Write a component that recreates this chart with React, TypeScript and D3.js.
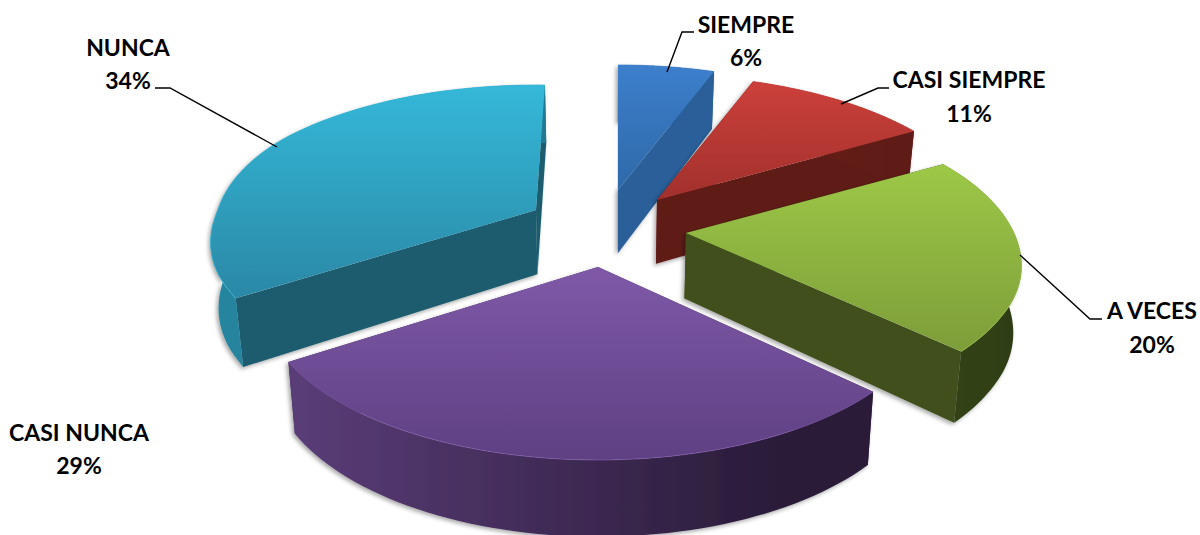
import React from "react";
import * as d3 from "d3";

const categories = ["SIEMPRE", "CASI SIEMPRE", "A VECES", "CASI NUNCA", "NUNCA"];
const percents = [6, 11, 20, 29, 34];

// layout (not data)
const W = 1200, H = 535, CX = 610, CY = 225;
const RX = 328, RY_MID = 159, RY_SKEW = 34, X_SKEW = 0.22;
const explodeOffset: [number, number][] = [[8, -35], [47, -25], [76, 8], [-12, 42], [-74, -15]];
const endNudge = [0, 0, 0, 0, 2 * Math.PI / 180];
const nearPullX = [0, 0, 0, 0, 0.03];
const nearScaleY = [1, 1, 0.95, 1, 0.93];
const paint = [4, 0, 1, 2, 3];
const styles = [
  { top: ["#3d7fcc", "#2e69a8"], inner: "#2b5e99", outer: ["#2b5e99", "#2b5e99"] },
  { top: ["#cc403b", "#a1302c"], inner: "#5f1a18", outer: ["#6b1e1b", "#5f1a18"] },
  { top: ["#9dc847", "#7d9d39"], inner: "#3f501c", outer: ["#33441a", "#2f3e14"] },
  { top: ["#7f59a8", "#5f4083"], inner: "#3a2850", outer: ["#5a3d78", "#291b38"] },
  { top: ["#35b8d9", "#2a88a5"], inner: "#1c5c6e", outer: ["#25859f", "#217a92"] },
];
const labelLayout = [
  { x: 746, y: 33, dy: 33 },
  { x: 969, y: 88, dy: 34 },
  { x: 1152, y: 319, dy: 34 },
  { x: 79, y: 441, dy: 33 },
  { x: 128, y: 56, dy: 33 },
];
const leaders: [number, number][][] = [
  [[667, 72], [682, 32], [694, 32]],
  [[841, 104], [878, 88], [889, 88]],
  [[1020, 255], [1090, 319], [1102, 319]],
  [],
  [[155, 88], [170, 88], [277, 147]],
];

// perspective projection of a unit disc point, with a per-slice near-side correction
const project = (a: number, i: number): [number, number] => {
  const s = Math.sin(a), v = -Math.cos(a);
  const pull = 1 - nearPullX[i] * Math.max(0, Math.min(1, (v + 0.5) / 0.5));
  const sy = v > 0 ? 1 - (1 - nearScaleY[i]) * v / 0.5 : 1;
  return [RX * (1 + X_SKEW * v) * s * pull, v * (RY_MID + RY_SKEW * v) * Math.max(sy, nearScaleY[i])];
};
const extrude = ([x, y]: [number, number]): [number, number] => [
  CX + (x - CX) * 0.98,
  y + 65 + (y - CY) * 0.05,
];

const pie = d3.pie<number>().sort(null).startAngle(0).endAngle(2 * Math.PI);
const arcs = pie(percents);
const line = d3.line<[number, number]>();

const slices = arcs.map((arc, i) => {
  const apex: [number, number] = [CX + explodeOffset[i][0], CY + explodeOffset[i][1]];
  const end = arc.endAngle + endNudge[i];
  const rim = d3
    .range(0, 61)
    .map((k) => arc.startAngle + ((end - arc.startAngle) * k) / 60)
    .map((a) => {
      const [x, y] = project(a, i);
      return [apex[0] + x, apex[1] + y] as [number, number];
    });
  const rimB = rim.map(extrude);
  const apexB = extrude(apex);
  const first = rim[0], last = rim[rim.length - 1];
  return {
    top: line([apex, ...rim])! + "Z",
    outer: line([...rim, ...rimB.slice().reverse()])! + "Z",
    wallA: line([apex, first, rimB[0], apexB])! + "Z",
    wallB: line([apex, last, rimB[rimB.length - 1], apexB])! + "Z",
    rim: line(rim)!,
  };
});

export default function App() {
  return (
    <svg
      width={W}
      height={H}
      viewBox={`0 0 ${W} ${H}`}
      style={{ position: "absolute", left: 0, top: 0, background: "#fff", display: "block" }}
    >
      <defs>
        <filter id="shadow" x="-10%" y="-10%" width="120%" height="120%">
          <feDropShadow dx="-2" dy="2" stdDeviation="2" floodColor="#000" floodOpacity="0.35" />
        </filter>
        {styles.map((s, i) => (
          <React.Fragment key={i}>
            <linearGradient id={`top${i}`} x1="0" y1="0" x2="0" y2="1">
              <stop offset="0" stopColor={s.top[0]} />
              <stop offset="1" stopColor={s.top[1]} />
            </linearGradient>
            <linearGradient id={`outer${i}`} x1="0" y1="0" x2="1" y2="0">
              <stop offset="0" stopColor={s.outer[0]} />
              <stop offset="0.85" stopColor={s.outer[1]} />
              <stop offset="1" stopColor={s.outer[1]} />
            </linearGradient>
          </React.Fragment>
        ))}
      </defs>
      {paint.map((i) => {
        const p = slices[i];
        return (
          <g key={i}>
            <g filter="url(#shadow)">
              <path d={p.wallA} fill={styles[i].inner} />
              <path d={p.wallB} fill={styles[i].inner} />
              <path d={p.outer} fill={`url(#outer${i})`} />
            </g>
            <path d={p.top} fill={`url(#top${i})`} />
            <path d={p.rim} fill="none" stroke={styles[i].top[0]} strokeOpacity={0.7} strokeWidth={1} />
          </g>
        );
      })}
      {leaders.map((pts, i) =>
        pts.length ? (
          <path key={i} d={line(pts)!} fill="none" stroke="#000" strokeWidth={1.4} />
        ) : null
      )}
      {categories.map((c, i) => (
        <text
          key={c}
          textAnchor="middle"
          fontFamily="Lato, 'Open Sans', sans-serif"
          fontWeight={700}
          fontSize={23}
          fill="#000"
        >
          <tspan x={labelLayout[i].x} y={labelLayout[i].y}>{c}</tspan>
          <tspan x={labelLayout[i].x} y={labelLayout[i].y + labelLayout[i].dy}>{percents[i]}%</tspan>
        </text>
      ))}
    </svg>
  );
}
